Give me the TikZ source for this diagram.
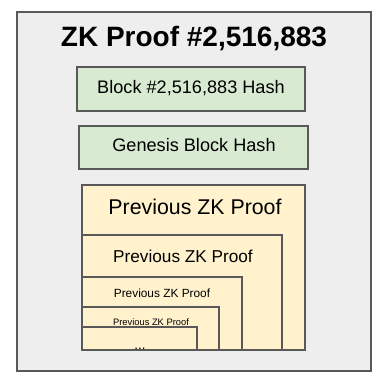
\documentclass[tikz,border=0pt]{standalone}
\usepackage{fontspec}
\setmainfont{Liberation Sans}
\usetikzlibrary{math}

\definecolor{framegray}{HTML}{EEEEEE}
\definecolor{hashgreen}{HTML}{D9EAD3}
\definecolor{proofyellow}{HTML}{FFF2CC}
\definecolor{edgegray}{HTML}{595959}

\begin{document}
\begin{tikzpicture}[x=0.75pt, y=-0.75pt,
	hashbox/.style={draw=edgegray, line width=0.9pt, fill=hashgreen},
	proofbox/.style={draw=edgegray, line width=0.9pt, fill=proofyellow},
	boxlabel/.style={anchor=base, inner sep=0pt, font=\fontsize{#1}{#1}\selectfont}]
	% Constants
	\tikzmath{\proofleft = 82; \proofbottom = 350;}

	\useasboundingbox (0,0) rectangle (386,383);

	% Frame and title
	\draw[draw=edgegray, line width=1.4pt, fill=framegray] (17,12) rectangle (371,371);
	\node[boxlabel=21, font=\bfseries\fontsize{21}{21}\selectfont] (title) at (194,46) {ZK Proof \#2,516,883};

	% Hashes
	\draw[hashbox] (77,67) rectangle (305,111);
	\node[boxlabel=13.6] (blockhash) at (191,93.5) {Block \#2,516,883 Hash};
	\draw[hashbox] (79,126) rectangle (308,169);
	\node[boxlabel=13.6] (genesishash) at (194,151.5) {Genesis Block Hash};

	% Nested proofs
	\draw[proofbox] (\proofleft,185) rectangle (305,\proofbottom);
	\node[boxlabel=16] (proofa) at (195,214) {Previous ZK Proof};
	\draw[proofbox] (\proofleft,235) rectangle (282,\proofbottom);
	\node[boxlabel=12.9] (proofb) at (183,262) {Previous ZK Proof};
	\draw[proofbox] (\proofleft,277) rectangle (242,\proofbottom);
	\node[boxlabel=8.9] (proofc) at (162,297) {Previous ZK Proof};
	\draw[proofbox] (\proofleft,307) rectangle (219,\proofbottom);
	\node[boxlabel=7] (proofd) at (151,325) {Previous ZK Proof};
	\draw[proofbox] (\proofleft,327) rectangle (197,\proofbottom);
	\begin{scope}
		\clip (\proofleft,327) rectangle (197,\proofbottom-0.6);
		\node[boxlabel=10] (proofe) at (140,349.8) {...};
	\end{scope}
	\draw[draw=edgegray, line width=0.9pt] (\proofleft,\proofbottom) -- (305,\proofbottom);
\end{tikzpicture}
\end{document}
